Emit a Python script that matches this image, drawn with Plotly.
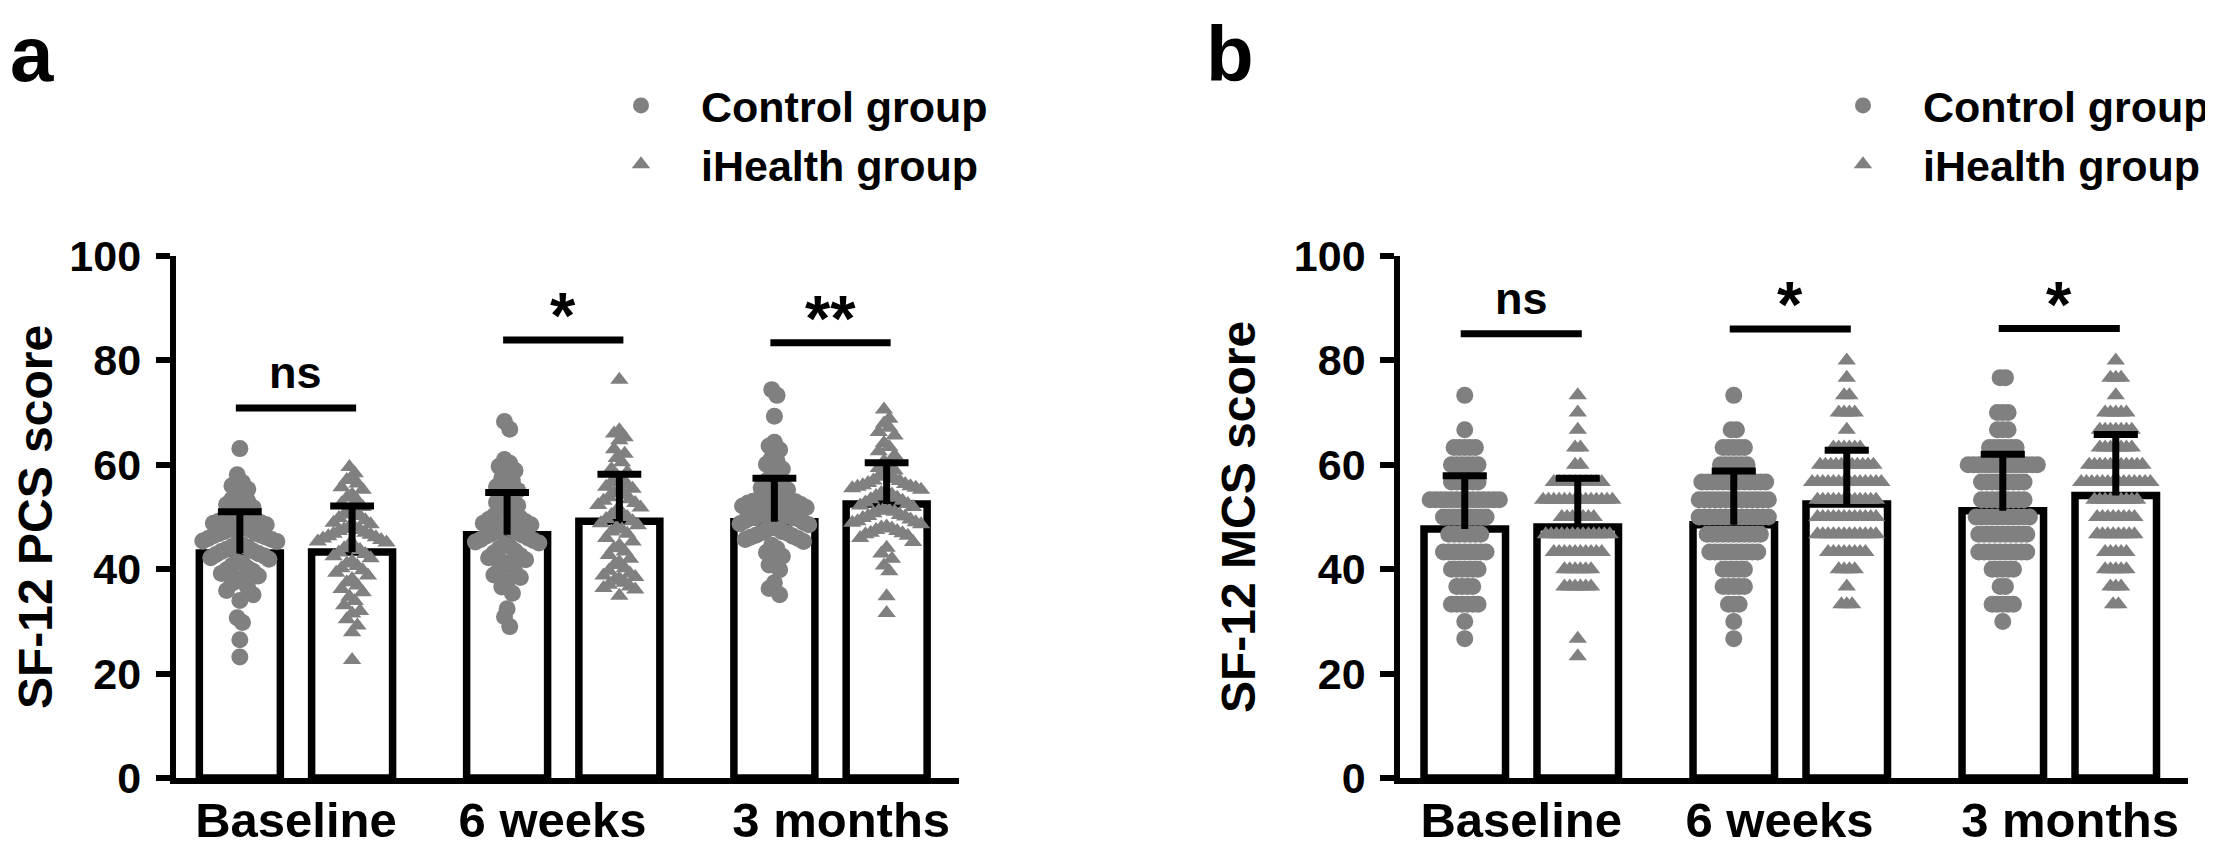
import plotly.graph_objects as go

# x categories
time_points = ["Baseline", "6 weeks", "3 months"]

# bar heights (group means) and SD error bars
pcs_ctrl_mean = [43.1, 46.6, 49.1]
pcs_ctrl_sd = [7.9, 8.1, 8.3]
pcs_ih_mean = [43.3, 49.2, 52.5]
pcs_ih_sd = [8.8, 9.0, 7.9]

mcs_ctrl_mean = [47.7, 48.5, 51.2]
mcs_ctrl_sd = [10.2, 10.3, 10.8]
mcs_ih_mean = [48.1, 52.5, 54.1]
mcs_ih_sd = [9.3, 10.3, 11.7]

# significance marks above each pair
pcs_sig_text = ["ns", "*", "**"]
pcs_sig_level = [70.9, 83.9, 83.4]
mcs_sig_text = ["ns", "*", "*"]
mcs_sig_level = [85.1, 86.0, 86.1]

# individual PCS scores (estimated from the dot clouds)
pcs_ctrl_base = [63.1, 58.1, 56.6, 56.0, 55.3, 54.6, 54.1, 53.4, 53.0, 52.4,
                 51.8, 51.6, 51.1, 50.8, 50.3, 50.1, 49.7, 49.4, 49.2, 48.9,
                 48.8, 48.5, 48.3, 48.0, 47.9, 47.6, 47.5, 47.2, 46.9, 46.8,
                 46.5, 46.4, 46.1, 45.9, 45.7, 45.4, 45.3, 44.9, 44.7, 44.3,
                 44.2, 43.8, 43.5, 43.4, 43.0, 42.8, 42.6, 42.2, 41.9, 41.4,
                 41.2, 40.7, 40.2, 39.9, 39.6, 39.2, 38.7, 38.1, 37.6, 37.3,
                 36.5, 35.9, 35.1, 34.0, 30.7, 29.8, 26.5, 23.2]
pcs_ih_base = [59.6, 58.4, 57.7, 57.1, 56.4, 55.7, 55.2, 54.3, 53.7, 53.1,
               52.6, 51.9, 51.4, 51.0, 50.5, 50.2, 49.8, 49.4, 48.9, 48.6,
               48.2, 48.0, 47.7, 47.5, 47.3, 47.0, 46.8, 46.6, 46.3, 46.1,
               45.9, 45.6, 45.3, 45.1, 44.8, 44.4, 44.0, 43.7, 43.2, 42.9,
               42.5, 42.1, 41.5, 41.1, 40.6, 40.2, 39.8, 39.3, 38.8, 38.1,
               37.5, 36.9, 36.2, 35.6, 34.7, 33.9, 33.1, 32.0, 31.5, 30.4,
               29.2, 27.9, 22.6]
pcs_ctrl_6w = [68.3, 66.8, 61.0, 60.3, 59.7, 58.9, 58.2, 57.5, 56.9, 55.8,
               55.1, 54.6, 53.9, 53.4, 52.8, 52.2, 51.6, 51.2, 50.9, 50.5,
               50.2, 49.8, 49.5, 49.1, 48.8, 48.5, 48.1, 47.9, 47.6, 47.3,
               47.1, 46.8, 46.5, 46.3, 46.0, 45.7, 45.5, 45.2, 45.0, 44.8,
               44.4, 44.0, 43.5, 43.1, 42.6, 42.2, 41.8, 41.3, 40.7, 40.1,
               39.5, 38.9, 38.4, 37.6, 36.6, 35.4, 32.4, 30.9, 29.0]
pcs_ih_6w = [76.3, 66.6, 66.0, 65.3, 64.7, 63.0, 62.1, 61.3, 60.5, 59.2,
             58.6, 57.9, 57.3, 56.6, 56.2, 55.8, 55.4, 55.0, 54.6, 54.2,
             53.8, 53.4, 53.1, 52.7, 52.3, 51.8, 51.3, 50.8, 50.4, 50.0,
             49.6, 49.2, 48.8, 48.4, 48.0, 47.6, 47.2, 46.8, 46.0, 45.3,
             44.6, 44.0, 43.4, 42.7, 42.0, 41.4, 40.8, 40.2, 39.7, 39.2,
             38.8, 38.5, 38.2, 37.8, 37.4, 37.0, 36.7, 36.4, 36.1, 34.9]
pcs_ctrl_3m = [74.4, 73.3, 69.3, 64.3, 63.6, 62.9, 61.3, 60.7, 60.1, 59.2,
               58.3, 57.6, 56.9, 56.2, 55.6, 55.2, 54.8, 54.4, 54.1, 54.0,
               53.7, 53.4, 53.2, 53.0, 52.9, 52.7, 52.4, 52.1, 51.8, 51.4,
               51.1, 51.0, 50.8, 50.5, 50.2, 50.0, 49.9, 49.8, 49.6, 49.3,
               49.0, 48.7, 48.5, 48.1, 47.8, 47.5, 47.2, 47.0, 46.9, 46.5,
               46.3, 46.1, 45.9, 45.7, 45.3, 44.6, 43.9, 43.2, 42.5, 41.6,
               40.8, 39.9, 37.4, 36.3, 35.1]
pcs_ih_3m = [70.6, 68.8, 67.9, 67.1, 66.3, 65.6, 64.2, 63.4, 62.6, 61.8,
             60.7, 60.1, 59.4, 58.9, 58.1, 58.0, 57.7, 57.3, 57.0, 56.9,
             56.5, 56.3, 56.1, 55.9, 55.8, 55.6, 55.5, 55.2, 54.9, 54.6,
             54.3, 54.0, 53.7, 53.4, 53.1, 52.8, 52.5, 52.2, 51.9, 51.6,
             51.3, 51.2, 51.0, 50.7, 50.4, 50.2, 50.1, 49.8, 49.5, 49.2,
             49.0, 48.9, 48.6, 48.2, 48.0, 47.8, 47.5, 47.3, 47.0, 46.9,
             46.7, 46.4, 46.0, 45.2, 44.1, 43.0, 42.0, 40.7, 39.6, 34.8,
             31.6]

# MCS scores sit on a fixed grid; number of patients on each level
mcs_levels = [23.3, 26.7, 30.0, 33.3, 36.7, 40.0, 43.3, 46.7, 50.0,
              53.3, 56.7, 60.0, 63.3, 66.7, 70.0, 73.3, 76.7, 80.0]
mcs_ctrl_base_n = [0, 1, 1, 6, 4, 6, 9, 7, 9, 14, 6, 6, 5, 1, 0, 1, 0, 0]
mcs_ih_base_n = [1, 1, 0, 0, 6, 6, 10, 13, 7, 14, 10, 2, 2, 1, 1, 1, 0, 0]
mcs_ctrl_6w_n = [0, 1, 1, 3, 5, 5, 10, 11, 14, 14, 13, 6, 5, 2, 0, 1, 0, 0]
mcs_ih_6w_n = [0, 0, 0, 3, 1, 4, 8, 12, 12, 12, 14, 11, 6, 1, 4, 2, 1, 1]
mcs_ctrl_3m_n = [0, 0, 1, 5, 2, 5, 10, 10, 11, 9, 9, 14, 6, 3, 3, 0, 2, 0]
mcs_ih_3m_n = [0, 0, 0, 2, 3, 5, 5, 8, 8, 9, 14, 11, 7, 7, 5, 1, 3, 1]

FONT = "Liberation Sans, Arial, sans-serif"
GREY = "#808080"
W, H = 2213, 853

bar_shift = 0.21     # bar centre offset from the time point
bar_w = 0.303
swarm_step = 0.0198  # horizontal spacing of points inside one row
row_h = 10 / 3       # height of one swarm row (data units)
cap_half = 0.082     # half width of the error bar cap
label_nudge = [0.0, -0.04, 0.04]  # category labels are not exactly centred


def expand(levels, counts):
    return [lv for lv, c in zip(levels, counts) for _ in range(c)]


def swarm(values, centre):
    rows = {}
    for v in values:
        rows.setdefault(round(v / row_h), []).append(v)
    xs, ys = [], []
    for row in rows.values():
        row.sort(reverse=True)
        n = len(row)
        slots = sorted([(i - (n - 1) / 2) * swarm_step for i in range(n)], key=abs)
        for v, dx in zip(row, slots):
            xs.append(centre + dx)
            ys.append(v)
    return xs, ys


panels = [
    dict(xa="x", ya="y", leg="legend",
         ctrl=[pcs_ctrl_base, pcs_ctrl_6w, pcs_ctrl_3m],
         ih=[pcs_ih_base, pcs_ih_6w, pcs_ih_3m],
         cm=pcs_ctrl_mean, cs=pcs_ctrl_sd, im=pcs_ih_mean, isd=pcs_ih_sd,
         sig=pcs_sig_text, lvl=pcs_sig_level),
    dict(xa="x2", ya="y2", leg="legend2",
         ctrl=[expand(mcs_levels, n) for n in (mcs_ctrl_base_n, mcs_ctrl_6w_n, mcs_ctrl_3m_n)],
         ih=[expand(mcs_levels, n) for n in (mcs_ih_base_n, mcs_ih_6w_n, mcs_ih_3m_n)],
         cm=mcs_ctrl_mean, cs=mcs_ctrl_sd, im=mcs_ih_mean, isd=mcs_ih_sd,
         sig=mcs_sig_text, lvl=mcs_sig_level),
]

fig = go.Figure()
shapes, annotations = [], []
groups = list(range(len(time_points)))

for p in panels:
    xc = [g - bar_shift for g in groups]
    xi = [g + bar_shift for g in groups]
    for xs_, m in ((xc, p["cm"]), (xi, p["im"])):
        fig.add_trace(go.Bar(
            x=xs_, y=m, width=bar_w, xaxis=p["xa"], yaxis=p["ya"],
            marker=dict(color="white", line=dict(color="black", width=7.5)),
            showlegend=False, hoverinfo="skip"))

    for name, sets, xs_, sym, size in (("Control group", p["ctrl"], xc, "circle", 17),
                                       ("iHealth group", p["ih"], xi, "triangle-up", 16)):
        px, py = [], []
        for vals, c in zip(sets, xs_):
            a, b = swarm(vals, c)
            px += a
            py += b
        fig.add_trace(go.Scatter(
            x=px, y=py, mode="markers", name=name, legend=p["leg"],
            xaxis=p["xa"], yaxis=p["ya"],
            marker=dict(symbol=sym, size=size, color=GREY, line=dict(width=0))))

    # mean + SD "T" bars drawn above the dots (upper half only)
    ex, ey = [], []
    for xs_, m, sd in ((xc, p["cm"], p["cs"]), (xi, p["im"], p["isd"])):
        for c, mv, s in zip(xs_, m, sd):
            ex += [c, c, None, c - cap_half, c + cap_half, None]
            ey += [mv, mv + s, None, mv + s, mv + s, None]
    fig.add_trace(go.Scatter(
        x=ex, y=ey, mode="lines", xaxis=p["xa"], yaxis=p["ya"],
        line=dict(color="black", width=7), showlegend=False, hoverinfo="skip"))

    for g, txt, lv in zip(groups, p["sig"], p["lvl"]):
        shapes.append(dict(type="line", xref=p["xa"], yref=p["ya"],
                           x0=g - 0.225, x1=g + 0.225, y0=lv, y1=lv,
                           line=dict(color="black", width=7)))
        star = txt != "ns"
        annotations.append(dict(
            text=txt, xref=p["xa"], yref=p["ya"], x=g,
            y=lv + (4.7 if star else 6.8), xanchor="center", yanchor="middle",
            showarrow=False,
            font=dict(family=FONT, size=65 if star else 45, color="black", weight="bold")))

# panel letters and y titles
for letter, xp in (("a", 0), ("b", 1196)):
    annotations.append(dict(text=letter, xref="paper", yref="paper", x=xp / W,
                            y=1, xanchor="left", yanchor="top",
                            showarrow=False,
                            font=dict(family=FONT, size=78, color="black", weight="bold")))
for title, xp in (("SF-12 PCS score", 27), ("SF-12 MCS score", 1230)):
    annotations.append(dict(text=title, xref="paper", yref="paper", x=xp / W,
                            y=1 - 509 / H, xanchor="center", yanchor="middle",
                            textangle=-90, showarrow=False,
                            font=dict(family=FONT, size=48, color="black", weight="bold")))

y_dom = [1 - 770 / H, 1 - 248 / H]
xaxis_style = dict(range=[-0.45, 2.48], showline=True, linewidth=6, linecolor="black",
                   ticks="", tickvals=[g + d for g, d in zip(groups, label_nudge)],
                   ticktext=time_points,
                   tickfont=dict(family=FONT, size=49, color="black", weight="bold"),
                   ticklabelstandoff=-6, showgrid=False, zeroline=False, fixedrange=True)
yaxis_style = dict(range=[0, 100], domain=y_dom, showline=True, linewidth=6,
                   linecolor="black", ticks="outside", ticklen=14, tickwidth=6,
                   tickcolor="black", tickvals=[0, 20, 40, 60, 80, 100],
                   tickfont=dict(family=FONT, size=43, color="black", weight="bold"),
                   ticklabelstandoff=6, showgrid=False, zeroline=False, fixedrange=True)

legend_style = dict(xanchor="left", yanchor="top", y=1 - 63 / H, itemwidth=110,
                    tracegroupgap=0, bgcolor="rgba(0,0,0,0)", borderwidth=0,
                    font=dict(family=FONT, size=43, color="black", weight="bold"))

fig.update_layout(
    width=W, height=H, barmode="overlay",
    margin=dict(l=0, r=0, t=0, b=0, autoexpand=False),
    paper_bgcolor="white", plot_bgcolor="white",
    xaxis=dict(domain=[167.7 / W, 950.8 / W], anchor="y", **xaxis_style),
    xaxis2=dict(domain=[1392.2 / W, 2180.4 / W], anchor="y2", **xaxis_style),
    yaxis=dict(anchor="x", **yaxis_style),
    yaxis2=dict(anchor="x2", **yaxis_style),
    legend=dict(x=573 / W, **legend_style),
    legend2=dict(x=1795 / W, **legend_style),
    shapes=shapes, annotations=annotations,
)

fig.write_html("out.html")
